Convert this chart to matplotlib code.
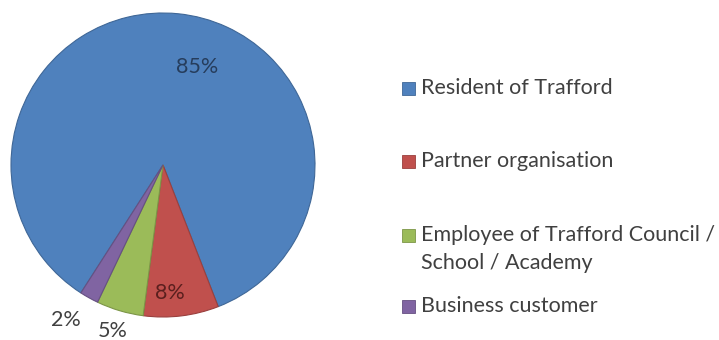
import numpy as np
import matplotlib
matplotlib.use("Agg")
import matplotlib.pyplot as plt
from matplotlib.patches import Rectangle
from matplotlib.colors import to_rgb

plt.rcParams['font.family'] = ['Lato', 'DejaVu Sans']

# survey respondents by type
categories = ["Resident of Trafford", "Partner organisation",
              "Employee of Trafford Council /\nSchool / Academy", "Business customer"]
shares = [85, 8, 5, 2]
colors = ["#4F81BD", "#C0504D", "#9BBB59", "#8064A2"]
pct_colors = ["#263d5c", "#5a1f1e", "#404040", "#404040"]

# where each percentage sits: (angle in degrees, distance from centre in radii)
pct_pos = [(71, 0.68), (-87, 0.84), (-107, 1.14), (-122, 1.2)]
# legend row centres (first text line) in pixels from the top
legend_rows = [88, 161, 235, 306]

W, H = 719, 340
fig = plt.figure(figsize=(W / 100, H / 100), dpi=100)

cx, cy, r = 163, 165, 152
ax = fig.add_axes([(cx - r) / W, (H - cy - r) / H, 2 * r / W, 2 * r / H])

def darker(c, f=0.8):
    return tuple(v * f for v in to_rgb(c))

wedges, _ = ax.pie(shares, colors=colors, startangle=237.3, counterclock=False,
                   radius=1, wedgeprops=dict(linewidth=0.8))
for w, c in zip(wedges, colors):
    w.set_edgecolor(darker(c))

for s, (ang, d), tc in zip(shares, pct_pos, pct_colors):
    a = np.deg2rad(ang)
    ax.text(d * np.cos(a), d * np.sin(a), f"{s}%", ha="center", va="center",
            fontsize=15.5, color=tc, clip_on=False)

ax.set_xlim(-1, 1)
ax.set_ylim(-1, 1)
ax.set_aspect("equal")
ax.axis("off")

# legend drawn by hand so the rows spread like the original layout
fs = 15.5
for lab, c, y in zip(categories, colors, legend_rows):
    fig.patches.append(Rectangle((402 / W, 1 - (y + 6.5) / H), 13 / W, 13 / H,
                                 transform=fig.transFigure, facecolor=c,
                                 edgecolor=darker(c), linewidth=0.6))
    if "\n" in lab:
        fig.text(421 / W, 1 - (y - 10) / H, lab, ha="left", va="top",
                 fontsize=fs, color="#404040", linespacing=1.5)
    else:
        fig.text(421 / W, 1 - y / H, lab, ha="left", va="center",
                 fontsize=fs, color="#404040")

fig.savefig("out.png", dpi=100, facecolor="white")
